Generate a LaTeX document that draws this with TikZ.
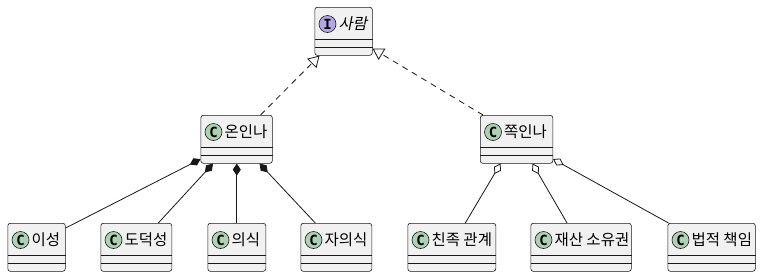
\documentclass[tikz,border=0pt]{standalone}
\usepackage{fontspec}
\setmainfont{Noto Sans CJK KR}
\newfontfamily\krslant[FakeSlant=0.2]{Noto Sans CJK KR}
\newfontfamily\iconfont{DejaVu Sans Mono}
\usetikzlibrary{positioning,arrows.meta}
\definecolor{boxfill}{HTML}{F1F1F1}
\definecolor{umlline}{HTML}{181818}
\definecolor{classicon}{HTML}{ADD1B2}
\definecolor{ifaceicon}{HTML}{B4A7E5}
\tikzset{
  classbox/.style={draw=umlline, line width=0.6pt, rounded corners=2.5pt, fill=boxfill, minimum height=48, inner sep=0pt, anchor=north west},
  sepline/.style={draw=umlline, line width=0.6pt},
  icon/.style={circle, draw=umlline, line width=0.6pt, minimum size=17, inner sep=0pt, font=\iconfont\bfseries\fontsize{14}{14}\selectfont},
  classname/.style={inner sep=0pt, anchor=west, font=\fontsize{15.5}{17}\selectfont},
  realize/.style={-{Triangle[open, length=11pt, width=13pt, fill=white]}, draw=umlline, line width=0.8pt, dash pattern=on 6pt off 5pt},
  compose/.style={-{Diamond[length=12pt, width=8pt]}, draw=umlline, line width=0.8pt},
  aggregate/.style={-{Diamond[open, length=12pt, width=8pt, fill=white]}, draw=umlline, line width=0.8pt}
}
% class box: name, north west corner, width, letter, icon colour, label
\newcommand{\umlclass}[6]{%
  \node[classbox, minimum width=#3] (#1) at #2 {};
  \draw[sepline] ([yshift=16]#1.south west) -- ([yshift=16]#1.south east);
  \draw[sepline] ([yshift=8]#1.south west) -- ([yshift=8]#1.south east);
  \node[icon, fill=#5] (#1-icon) at ([xshift=13, yshift=-17]#1.north west) {#4};
  \node[classname, right=2pt of #1-icon] (#1-name) {#6};
}
\begin{document}
\begin{tikzpicture}[x=1pt, y=-1pt]
  \path[use as bounding box, fill=white] (0,0) rectangle (761,277);
  % top
  \umlclass{saram}{(314.5,7)}{57.5}{I}{ifaceicon}{\krslant 사람}
  % middle
  \umlclass{onin}{(200.5,115)}{71.5}{C}{classicon}{온인나}
  \umlclass{jjok}{(480,115)}{72.5}{C}{classicon}{쪽인나}
  % bottom
  \umlclass{iseong}{(7.5,223)}{57.5}{C}{classicon}{이성}
  \umlclass{dodeok}{(100.5,223)}{71}{C}{classicon}{도덕성}
  \umlclass{uisik}{(207.5,223)}{58}{C}{classicon}{의식}
  \umlclass{jauisik}{(300.5,223)}{71}{C}{classicon}{자의식}
  \umlclass{chinjok}{(407.5,223)}{88}{C}{classicon}{친족 관계}
  \umlclass{jaesan}{(530.5,223)}{100.5}{C}{classicon}{재산 소유권}
  \umlclass{beopjeok}{(667.5,223)}{87.5}{C}{classicon}{법적 책임}

  \draw[realize] ([xshift=24]onin.north) -- ([xshift=5]saram.south west);
  \draw[realize] ([xshift=3]jjok.north west) -- ([yshift=7]saram.south east);

  \draw[compose] ([yshift=-5]iseong.north east) -- ([yshift=4.5]onin.south west);
  \draw[compose] ([xshift=22]dodeok.north) -- ([xshift=12.5]onin.south west);
  \draw[compose] (uisik.north) -- (uisik.north |- onin.south);
  \draw[compose] ([xshift=-21]jauisik.north) -- ([xshift=23]onin.south);

  \draw[aggregate] ([xshift=13.5]chinjok.north) -- ([xshift=-16]jjok.south);
  \draw[aggregate] ([xshift=-14]jaesan.north) -- ([xshift=16]jjok.south);
  \draw[aggregate] ([xshift=1]beopjeok.north west) -- ([yshift=4.5]jjok.south east);
\end{tikzpicture}
\end{document}
